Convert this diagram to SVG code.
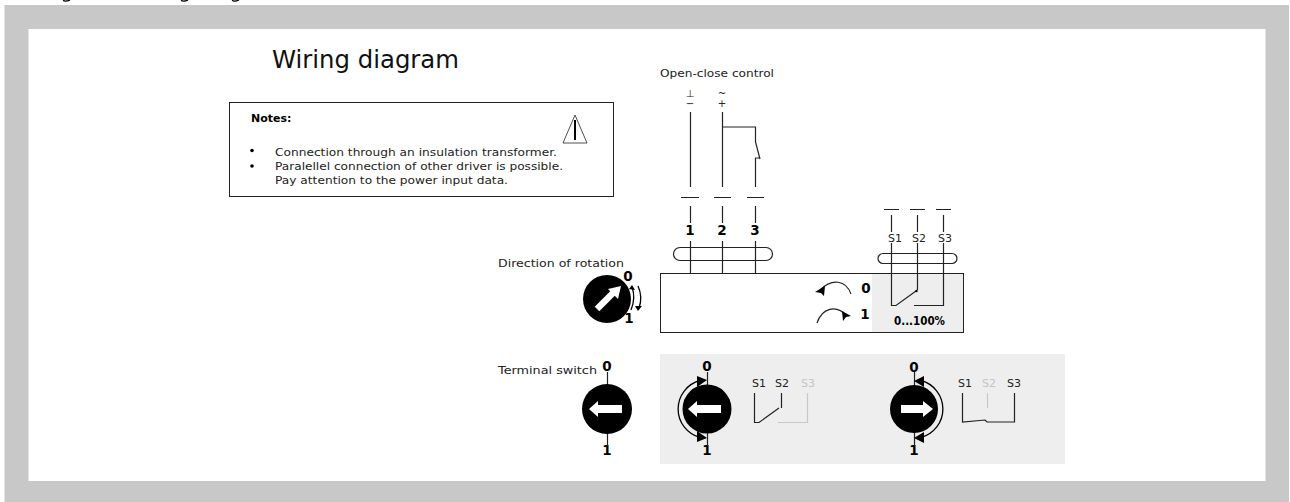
<svg xmlns="http://www.w3.org/2000/svg" width="1290" height="502" viewBox="0 0 1290 502">
<style>
text{font-family:"DejaVu Sans","Liberation Sans",sans-serif;font-size:11px;fill:#222}
.b{font-weight:bold;fill:#000}
.n{font-weight:bold;fill:#000;font-size:13.500px;text-anchor:middle}
.l{fill:none;stroke:#222;stroke-width:1.200}
.g{fill:none;stroke:#c8c8c8;stroke-width:1.200}
.a{fill:none;stroke:#000;stroke-width:1.300}
.h{fill:#000;stroke:none}
.gt{fill:#c4c4c4}
.s{font-size:10px;fill:#222;text-anchor:middle}
</style>
<rect width="1290" height="502" fill="#fff"/>
<path d="M4.500 5H1289V502H4.500V5ZM28.500 29V481H1265.500V29Z" fill="#c8c8c8" fill-rule="evenodd"/>
<g id="clipped-top" fill="none" stroke="#000" stroke-width="1.300"><path d="M63 0.500Q66 2 70 0"/><path d="M181 0.500Q184 2 188 0"/><path d="M232 0.500Q235 2 239 0"/></g>
<g id="title"><text x="272" y="68" style="font-size:24px;fill:#111" textLength="187" lengthAdjust="spacingAndGlyphs">Wiring diagram</text></g>
<g id="notes">
<rect x="229.500" y="102.500" width="384" height="94" fill="#fff" stroke="#222" stroke-width="1"/>
<text class="b" x="251" y="121.500">Notes:</text>
<path d="M575 115L563 143H587Z" fill="none" stroke="#222" stroke-width="0.800"/>
<path d="M575 120V140" stroke="#000" stroke-width="2" fill="none"/>
<circle class="h" cx="252" cy="150.500" r="1.800"/><circle class="h" cx="252" cy="166" r="1.800"/>
<text x="275" y="155.500" textLength="282" lengthAdjust="spacingAndGlyphs">Connection through an insulation transformer.</text>
<text x="275" y="170" textLength="288" lengthAdjust="spacingAndGlyphs">Paralellel connection of other driver is possible.</text>
<text x="275" y="184" textLength="233" lengthAdjust="spacingAndGlyphs">Pay attention to the power input data.</text>
</g>
<g id="open-close-label"><text x="660" y="77" textLength="114" lengthAdjust="spacingAndGlyphs">Open-close control</text></g>
<g id="supply-symbols">
<text class="s" x="690" y="97">⊥</text><text class="s" x="690" y="107">−</text>
<text class="s" x="722" y="97">~</text><text class="s" x="722" y="107">+</text>
</g>
<g id="actuator">
<rect x="660.500" y="273.500" width="303" height="59" fill="#fff" stroke="#222"/>
<rect x="872" y="274" width="91" height="58" fill="#eee"/>
<text class="n" x="866" y="293">0</text><text class="n" x="865" y="319">1</text>
<text class="b" x="894" y="325" style="font-size:12.500px" textLength="51" lengthAdjust="spacingAndGlyphs">0...100%</text>
</g>
<g id="terminals">
<text class="n" x="690" y="235">1</text><text class="n" x="722" y="235">2</text><text class="n" x="755" y="235">3</text>
<text x="888" y="242">S1</text><text x="912" y="242">S2</text><text x="938" y="242">S3</text>
</g>
<g id="connectors">
<path class="l" d="M690.500 112V187M722.500 112V187M722.500 127H755.500V142L760 159M755 158H760M755.500 158V187"/>
<path class="l" d="M681 197.500H699M714 197.500H731M747 197.500H764M690.500 206V223M722.500 206V223M755.500 206V223M690.500 241V273M722.500 241V273M755.500 241V273"/>
<rect class="l" x="673.500" y="247.500" width="99" height="13" rx="6.500"/>
<path class="l" d="M884 209.500H899M910 209.500H925M936 209.500H951M891.500 215V232M917.500 215V232M943.500 215V232"/>
<rect class="l" x="878" y="253.500" width="79" height="10" rx="5"/>
<path class="l" d="M891.500 243V305.500H896L916 291M917.500 243V290M914 305.500H943.500V243"/>
<circle class="h" cx="916.500" cy="291" r="1.200"/>
<path class="l" d="M851 294C846 280 832 278 820 290"/><path class="h" d="M815 292L825 286L824 296L821 293Z"/>
<path class="l" d="M817 323C822 308 836 304 847 316"/><path class="h" d="M851 316L842 311L843 321L846 317Z"/>
</g>
<g id="direction-switch">
<text x="498" y="267" textLength="126" lengthAdjust="spacingAndGlyphs">Direction of rotation</text>
<circle class="h" cx="607" cy="299" r="24"/>
<path d="M597 309L614 292" stroke="#fff" stroke-width="6.500" fill="none"/><path d="M621 286L618 299L608 289Z" fill="#fff"/>
<text class="n" x="628" y="281">0</text><text class="n" x="629" y="323">1</text>
<path class="a" d="M632 287Q636 298 631 310M638 286Q643 297 639 308"/>
<path class="h" d="M632 285L635 290L629 289ZM638 311L635 306L642 306Z"/>
</g>
<g id="terminal-switch">
<text x="498" y="374" textLength="99" lengthAdjust="spacingAndGlyphs">Terminal switch</text>
<text class="n" x="607" y="371">0</text><text class="n" x="607" y="455">1</text>
<path class="l" d="M607.500 372V446"/>
<circle class="h" cx="607" cy="409" r="25"/>
<path d="M589 409L598 401V405H622V413H598V417Z" fill="#fff"/>
</g>
<g id="position-panel"><rect x="660" y="354" width="405" height="110" fill="#eee"/></g>
<g id="position-left">
<text class="n" x="707" y="371">0</text><text class="n" x="707" y="455">1</text>
<path class="l" d="M707.500 372V446"/>
<circle class="h" cx="707" cy="409" r="24.500"/>
<path d="M688 409L697 401V405H721V413H697V417Z" fill="#fff"/>
<path class="a" d="M700 380.500A29.500 29.500 0 0 0 700 437.500"/>
<path class="h" d="M707 380L697 376V387ZM707 438L697 431V442Z"/>
<text x="752" y="387">S1</text><text x="775" y="387">S2</text><text class="gt" x="801" y="387">S3</text>
<path class="l" d="M754.500 393V422.500H759L779 408M781.500 393V408"/>
<path class="g" d="M778 422.500H807.500V393"/>
</g>
<g id="position-right">
<text class="n" x="914" y="372">0</text><text class="n" x="914" y="455">1</text>
<path class="l" d="M914.500 372V446"/>
<circle class="h" cx="914" cy="409" r="24"/>
<path d="M933 409L923 401V405H901V413H923V417Z" fill="#fff"/>
<path class="a" d="M921 380.500A29.500 29.500 0 0 1 921 437.500"/>
<path class="h" d="M914 381L924 376V387ZM914 438L924 432V443Z"/>
<text x="958" y="387">S1</text><text class="gt" x="982" y="387">S2</text><text x="1007" y="387">S3</text>
<path class="g" d="M987.500 393V408"/>
<path class="l" d="M962.500 393V422L985 420L987 422H1014.500V393"/>
</g>
</svg>
